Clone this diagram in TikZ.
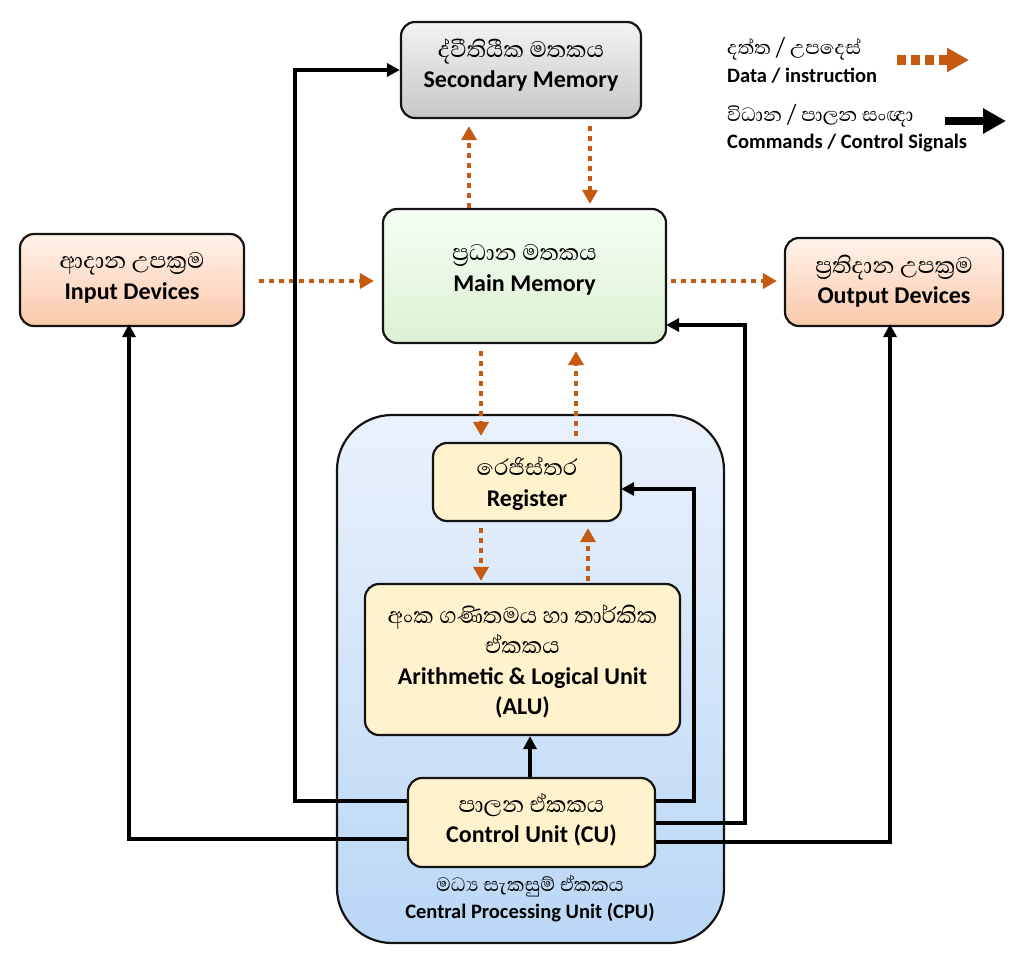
\documentclass[tikz,border=0pt]{standalone}
\usepackage{fontspec}
\setmainfont{Carlito}
\newfontfamily\sinhalafont[Script=Sinhala,Scale=1.2]{Abhaya Libre}
\usetikzlibrary{arrows.meta}
\definecolor{dataC}{HTML}{C55A11}
\definecolor{boxY}{HTML}{FFF2CC}
\tikzset{
  box/.style={draw=black!92, line width=2.2pt, rounded corners=14pt, inner sep=0pt},
  txt/.style={align=center, inner sep=0pt, font=\bfseries\fontsize{24}{30.5}\selectfont},
  graybox/.style={box, top color=white!95!black, bottom color=black!22},
  greenbox/.style={box, top color=green!4!white, bottom color={rgb,255:red,220;green,240;blue,210}},
  peachbox/.style={box, top color={rgb,255:red,255;green,242;blue,234}, bottom color={rgb,255:red,250;green,200;blue,170}},
  yelbox/.style={box, fill=boxY},
  cpubox/.style={draw=black!92, line width=2.2pt, rounded corners=55pt,
    top color={rgb,255:red,234;green,241;blue,252}, bottom color={rgb,255:red,186;green,215;blue,245}},
  ctrl/.style={draw=black, line width=4pt, -{Triangle[length=13pt,width=13pt]}},
  data/.style={draw=dataC, line width=4.5pt, dash pattern=on 4.5pt off 5.5pt, -{Triangle[length=14pt,width=15pt]}},
  legtext/.style={anchor=west, inner sep=0pt, font=\bfseries\fontsize{20.5}{24}\selectfont},
}
\newcommand{\sn}[1]{{\sinhalafont\mdseries #1}}
\begin{document}
\begin{tikzpicture}[x=1pt,y=-1pt]
\useasboundingbox (0,0) rectangle (1024,966);
% CPU container
\node[cpubox, minimum width=387pt, minimum height=528pt] (cpu) at (530.5,679) {};
\node[align=center, inner sep=0pt, font=\bfseries\fontsize{20.5}{27}\selectfont] (cpulbl) at (530,899)
  {\sn{මධ්‍ය සැකසුම් ඒකකය}\\Central Processing Unit (CPU)};
% boxes
\node[graybox, minimum width=240pt, minimum height=96pt] (sec) at (521,70) {};
\node[txt] (secT) at (521,65) {\sn{ද්වීතියීක මතකය}\\Secondary Memory};
\node[greenbox, minimum width=283pt, minimum height=134pt] (mm) at (524.5,276) {};
\node[txt] (mmT) at (524.5,270) {\sn{ප්‍රධාන මතකය}\\Main Memory};
\node[peachbox, minimum width=224pt, minimum height=92pt] (inp) at (132,280) {};
\node[txt] (inpT) at (132,278) {\sn{ආදාන උපක්‍රම}\\Input Devices};
\node[peachbox, minimum width=218pt, minimum height=88pt] (out) at (894,282) {};
\node[txt] (outT) at (894,281) {\sn{ප්‍රතිදාන උපක්‍රම}\\Output Devices};
\node[yelbox, minimum width=188pt, minimum height=78pt] (reg) at (527,482) {};
\node[txt] (regT) at (527,483.5) {\sn{රෙජිස්තර}\\Register};
\node[yelbox, minimum width=315pt, minimum height=151pt] (alu) at (522.5,659.5) {};
\node[txt] (aluT) at (522.5,661.5) {\sn{අංක ගණිතමය හා තාර්කික}\\\sn{ඒකකය}\\Arithmetic \& Logical Unit\\(ALU)};
\node[yelbox, minimum width=247pt, minimum height=89pt] (cu) at (531.5,822.5) {};
\node[txt] (cuT) at (531.5,820) {\sn{පාලන ඒකකය}\\Control Unit (CU)};
% data arrows
\draw[data, shorten >=7pt] (469,0 |- mm.north) -- (469,0 |- sec.south);
\draw[data, shorten <=7pt, shorten >=4pt] (590,0 |- sec.south) -- (590,0 |- mm.north);
\draw[data, shorten <=14pt, shorten >=8pt] (0,281 -| inp.east) -- (0,281 -| mm.west);
\draw[data, shorten <=4pt, shorten >=7pt] (0,281 -| mm.east) -- (0,281 -| out.west);
\draw[data, shorten <=7pt, shorten >=6pt] (481,0 |- mm.south) -- (481,0 |- reg.north);
\draw[data, shorten <=6pt, shorten >=7pt] (576,0 |- reg.north) -- (576,0 |- mm.south);
\draw[data, shorten <=6pt, shorten >=2pt] (481,0 |- reg.south) -- (481,0 |- alu.north);
\draw[data, shorten <=2pt, shorten >=6pt] (588,0 |- alu.north) -- (588,0 |- reg.south);
% control arrows
\draw[ctrl] (0,801 -| cu.west) -- (295,801) |- (sec.west);
\draw[ctrl, shorten >=-3pt] (0,839 -| cu.west) -| (129,0 |- inp.south);
\draw[ctrl] (530,0 |- cu.north) -- (530,0 |- alu.south);
\draw[ctrl, shorten >=-1pt] (0,801 -| cu.east) -- (694,801) |- (0,489 -| reg.east);
\draw[ctrl, shorten >=-1pt] (0,823 -| cu.east) -- (745,823) |- (0,325 -| mm.east);
\draw[ctrl, shorten >=-3pt] (0,842 -| cu.east) -| (890,0 |- out.south);
% legend
\node[legtext] (l1) at (727,49) {\sn{දත්ත / උපදෙස්}};
\node[legtext] (l2) at (727,76) {Data / instruction};
\node[legtext] (l3) at (727,116) {\sn{විධාන / පාලන සංඥා}};
\node[legtext] (l4) at (727,143) {Commands / Control Signals};
\coordinate (ld1) at (897,60);
\coordinate (ld2) at (969,60);
\draw[draw=dataC, line width=9pt, dash pattern=on 9pt off 5pt, -{Triangle[length=22pt,width=23pt]}] (ld1) -- (ld2);
\coordinate (lc1) at (945,121);
\coordinate (lc2) at (1006,121);
\draw[draw=black, line width=8pt, -{Triangle[length=23pt,width=24pt]}] (lc1) -- (lc2);
\end{tikzpicture}
\end{document}
